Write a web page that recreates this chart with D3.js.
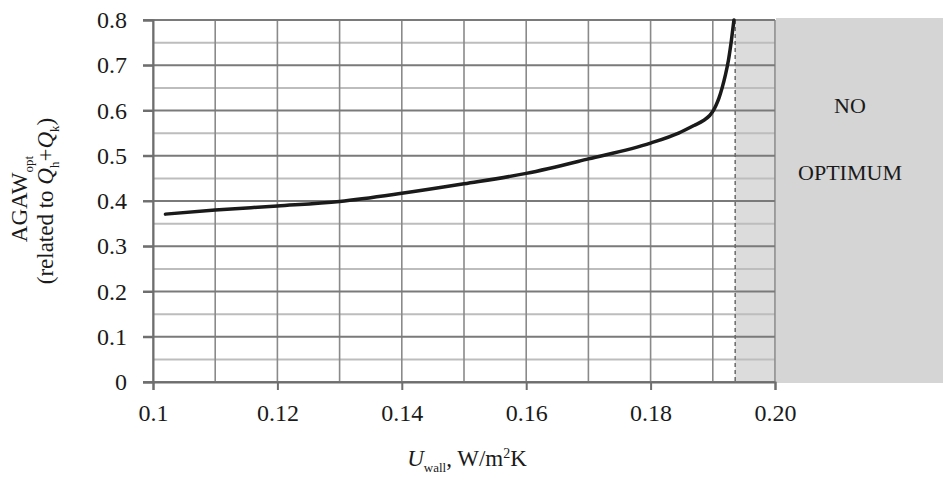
<!DOCTYPE html>
<html>
<head>
<meta charset="utf-8">
<script src="https://d3js.org/d3.v7.min.js"></script>
<style>
    body { margin: 0; background: #ffffff; }
    svg { display: block; font-family: "Liberation Serif", "DejaVu Serif", serif; }
</style>
</head>
<body>
<div id="container"></div>
<script>
const width = 943;
const height = 479;
const margin = {top: 20, right: 168, bottom: 97, left: 153};
const plotW = width - margin.left - margin.right;
const plotH = height - margin.top - margin.bottom;

// DATA
const uWall = [0.102, 0.11, 0.12, 0.13, 0.14, 0.15, 0.16, 0.17, 0.18, 0.1845, 0.187, 0.1885, 0.1895, 0.19, 0.1905, 0.191, 0.1915, 0.192, 0.1925, 0.193, 0.1934];
const agawOpt = [0.371, 0.38, 0.389, 0.399, 0.417, 0.438, 0.461, 0.493, 0.528, 0.55, 0.567, 0.578, 0.589, 0.598, 0.611, 0.628, 0.65, 0.677, 0.71, 0.756, 0.8];
const xTicks = [0.1, 0.12, 0.14, 0.16, 0.18, 0.2];
const xTickLabels = ["0.1", "0.12", "0.14", "0.16", "0.18", "0.20"];
const xGrid = [0.1, 0.11, 0.12, 0.13, 0.14, 0.15, 0.16, 0.17, 0.18, 0.19, 0.2];
const yTicks = [0, 0.1, 0.2, 0.3, 0.4, 0.5, 0.6, 0.7, 0.8];
const yMinor = [0.05, 0.15, 0.25, 0.35, 0.45, 0.55, 0.65, 0.75];
const noOptimumFrom = 0.1936;

const svg = d3.select("div#container").append("svg")
    .attr("width", width)
    .attr("height", height);

// SCALES
const xScale = d3.scaleLinear().domain([0.1, 0.2]).range([margin.left, margin.left + plotW]);
const yScale = d3.scaleLinear().domain([0, 0.8]).range([margin.top + plotH, margin.top]);

// SHADED AREA (no optimum)
svg.append("rect")
    .attr("x", xScale(noOptimumFrom))
    .attr("y", yScale(0.8))
    .attr("width", xScale(0.2) - xScale(noOptimumFrom))
    .attr("height", yScale(0) - yScale(0.8))
    .attr("fill", "#dcdcdc");

svg.append("rect")
    .attr("x", xScale(0.2) + 1)
    .attr("y", yScale(0.8) - 2)
    .attr("width", width - xScale(0.2) - 1)
    .attr("height", yScale(0) - yScale(0.8) + 3)
    .attr("fill", "#d5d5d5");

// GRID
svg.append("g").selectAll("line")
    .data(yMinor)
    .enter()
    .append("line")
    .attr("x1", xScale(0.1))
    .attr("x2", xScale(0.2))
    .attr("y1", function (d) { return yScale(d); })
    .attr("y2", function (d) { return yScale(d); })
    .attr("stroke", "#bdbdbd")
    .attr("stroke-width", 2);

svg.append("g").selectAll("line")
    .data(xGrid)
    .enter()
    .append("line")
    .attr("x1", function (d) { return xScale(d); })
    .attr("x2", function (d) { return xScale(d); })
    .attr("y1", yScale(0.8))
    .attr("y2", yScale(0))
    .attr("stroke", "#8a8a8a")
    .attr("stroke-width", 1.6);

svg.append("g").selectAll("line")
    .data(yTicks)
    .enter()
    .append("line")
    .attr("x1", xScale(0.1) - 10)
    .attr("x2", xScale(0.2))
    .attr("y1", function (d) { return yScale(d); })
    .attr("y2", function (d) { return yScale(d); })
    .attr("stroke", "#7a7a7a")
    .attr("stroke-width", 1.8);

// AXES
const xaxis = d3.axisBottom(xScale)
    .tickValues(xTicks)
    .tickSize(8)
    .tickPadding(14)
    .tickFormat(function (d, i) { return xTickLabels[i]; });

const yaxis = d3.axisLeft(yScale)
    .tickValues(yTicks)
    .tickSize(10)
    .tickPadding(16)
    .tickFormat(function (d) { return d === 0 ? "0" : d3.format(".1f")(d); });

const gx = svg.append("g")
    .attr("transform", "translate(0," + yScale(0) + ")")
    .call(xaxis);

const gy = svg.append("g")
    .attr("transform", "translate(" + xScale(0.1) + ",0)")
    .call(yaxis);

[gx, gy].forEach(function (g) {
    g.attr("font-size", null).attr("font-family", null);
    g.select(".domain").attr("stroke", "#6e6e6e").attr("stroke-width", 2);
    g.selectAll(".tick line").attr("stroke", "#6e6e6e").attr("stroke-width", 2);
    g.selectAll(".tick text")
        .style("font-family", "'Liberation Serif', serif")
        .style("font-size", "24px")
        .attr("fill", "#1a1a1a");
});

// DASHED LIMIT
svg.append("line")
    .attr("x1", xScale(noOptimumFrom))
    .attr("x2", xScale(noOptimumFrom))
    .attr("y1", yScale(0.8))
    .attr("y2", yScale(0))
    .attr("stroke", "#6a6a6a")
    .attr("stroke-width", 1.5)
    .attr("stroke-dasharray", "4,3");

// LINE
const line = d3.line()
    .x(function (d, i) { return xScale(uWall[i]); })
    .y(function (d) { return yScale(d); })
    .curve(d3.curveMonotoneX);

svg.append("path")
    .datum(agawOpt)
    .attr("fill", "none")
    .attr("stroke", "#1a1a1a")
    .attr("stroke-width", 3.5)
    .attr("stroke-linecap", "round")
    .attr("d", line);

// NO OPTIMUM LABEL
const noX = 850;
svg.append("text")
    .attr("x", noX).attr("y", 113)
    .attr("text-anchor", "middle")
    .style("font-size", "22px")
    .attr("fill", "#1a1a1a")
    .text("NO");
svg.append("text")
    .attr("x", noX).attr("y", 180)
    .attr("text-anchor", "middle")
    .style("font-size", "22px")
    .attr("fill", "#1a1a1a")
    .text("OPTIMUM");

// AXIS TITLES
const xTitle = svg.append("text")
    .attr("x", (xScale(0.1) + xScale(0.2)) / 2 + 3)
    .attr("y", 466)
    .attr("text-anchor", "middle")
    .style("font-size", "23px")
    .attr("fill", "#1a1a1a");
xTitle.append("tspan").style("font-style", "italic").text("U");
xTitle.append("tspan").attr("dy", 6).style("font-size", "13px").text("wall");
xTitle.append("tspan").attr("dy", -6).text(", W/m");
xTitle.append("tspan").attr("dy", -8).style("font-size", "14px").text("2");
xTitle.append("tspan").attr("dy", 8).text("K");

const yMid = (yScale(0) + yScale(0.8)) / 2;
const yTitle1 = svg.append("text")
    .attr("transform", "translate(27," + (yMid - 2) + ") rotate(-90)")
    .attr("text-anchor", "middle")
    .style("font-size", "23px")
    .attr("fill", "#1a1a1a");
yTitle1.append("tspan").text("AGAW");
yTitle1.append("tspan").attr("dy", 6).style("font-size", "13px").text("opt");

const yTitle2 = svg.append("text")
    .attr("transform", "translate(53," + yMid + ") rotate(-90)")
    .attr("text-anchor", "middle")
    .style("font-size", "23px")
    .attr("fill", "#1a1a1a");
yTitle2.append("tspan").text("(related to ");
yTitle2.append("tspan").style("font-style", "italic").text("Q");
yTitle2.append("tspan").attr("dy", 6).style("font-size", "13px").text("h");
yTitle2.append("tspan").attr("dy", -6).text("+");
yTitle2.append("tspan").style("font-style", "italic").text("Q");
yTitle2.append("tspan").attr("dy", 6).style("font-size", "13px").text("k");
yTitle2.append("tspan").attr("dy", -6).text(")");
</script>
</body>
</html>
